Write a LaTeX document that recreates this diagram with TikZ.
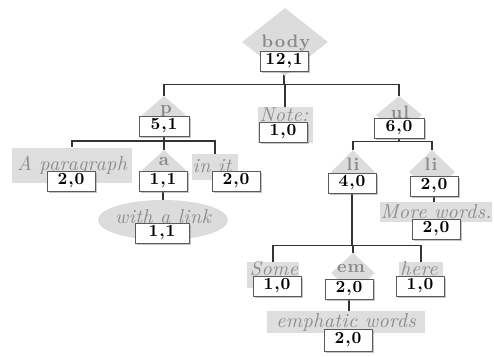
\documentclass[tikz,border=0pt]{standalone}
\usepackage{fontspec}
\setmainfont{lmroman10}[Extension=.otf, UprightFont=*-regular, BoldFont=*-bold,
  ItalicFont=*-italic, BoldItalicFont=*-bolditalic]
\usetikzlibrary{shapes.geometric,shadows}
\definecolor{tagfill}{HTML}{DCDCDC}
\definecolor{platefill}{HTML}{DEDEDE}
\definecolor{taggray}{HTML}{8A8A8A}
\definecolor{wordgray}{HTML}{8C8C8C}
\definecolor{linkgray}{HTML}{333333}
\definecolor{boxline}{HTML}{5A5A5A}
\newcommand\countfont{\fontsize{17}{17}\selectfont\bfseries\addfontfeatures{LetterSpace=5}}
\newcommand\tagfont{\fontsize{18}{18}\selectfont\bfseries\addfontfeatures{LetterSpace=6}}
\newcommand\wordfont{\fontsize{20}{20}\selectfont\itshape\addfontfeatures{LetterSpace=2}}
\pgfdeclarelayer{background}
\pgfsetlayers{background,main}
\begin{document}
\begin{tikzpicture}[x=1pt,y=-1pt,
  count/.style={draw=boxline, line width=1pt, fill=white, minimum width=48pt,
    minimum height=20pt, inner sep=0pt, font=\countfont, text=black,
    drop shadow={opacity=0.45, shadow xshift=1.8pt, shadow yshift=-1.8pt}},
  tag/.style={diamond, fill=tagfill, inner sep=0pt, minimum width=44pt, minimum height=38pt},
  tagtext/.style={font=\tagfont, text=taggray, inner sep=0pt},
  plate/.style={rectangle, fill=platefill, inner sep=0pt},
  words/.style={font=\wordfont, text=wordgray, inner sep=0pt},
  link/.style={draw=linkgray, line width=1.3pt}]
\useasboundingbox (0,0) rectangle (494,356);

% element tags (diamonds) and their names
\node[tag, minimum width=86pt, minimum height=68pt] (dBody) at (285,42) {};
\node[tagtext] (tBody) at (286,43) {body};
\node[tag] (dP) at (164,115) {};
\node[tagtext] (tP) at (166,111) {p};
\node[tag, minimum height=40pt] (dA) at (164,170) {};
\node[tagtext] (tA) at (164,161) {a};
\node[tag, minimum width=46pt] (dUl) at (399,115) {};
\node[tagtext] (tUl) at (400,112) {ul};
\node[tag, minimum height=44pt] (dLiA) at (353,172) {};
\node[tagtext] (tLiA) at (353,164) {li};
\node[tag, minimum width=46pt, minimum height=44pt] (dLiB) at (432,172) {};
\node[tagtext] (tLiB) at (431,164) {li};
\node[tag, minimum height=40pt] (dEm) at (353,273) {};
\node[tagtext] (tEm) at (351,268) {em};

% text runs on grey plates
\node[plate, minimum width=120pt, minimum height=35pt] (rPara) at (72,165) {};
\node[words] (wPara) at (72,165) {A paragraph};
\node[plate, minimum width=46pt, minimum height=26pt] (rInit) at (215,167) {};
\node[words] (wInit) at (212,166) {in it};
\node[plate, minimum width=55pt, minimum height=36pt] (rNote) at (285,125) {};
\node[words] (wNote) at (284,115) {Note:};
\node[ellipse, fill=tagfill, minimum width=130pt, minimum height=40pt, inner sep=0pt] (eLink) at (163,220) {};
\node[words] (wLink) at (163,217) {with a link};
\node[plate, minimum width=112pt, minimum height=20pt] (rMore) at (436,212) {};
\node[words] (wMore) at (436,212) {More words.};
\node[plate, minimum width=52pt, minimum height=26pt] (rSome) at (273,275) {};
\node[words] (wSome) at (274,269) {Some};
\node[plate, minimum width=44pt, minimum height=26pt] (rHere) at (421,275) {};
\node[words] (wHere) at (419,269) {here};
\node[plate, minimum width=158pt, minimum height=22pt] (rEmph) at (346,322) {};
\node[words] (wEmph) at (346,322) {emphatic words};

% counters
\node[count] (cBody) at (284,61) {12,1};
\node[count, minimum width=50pt] (cP) at (164,126) {5,1};
\node[count] (cNote) at (283,132) {1,0};
\node[count, minimum width=50pt] (cUl) at (399,128) {6,0};
\node[count] (cPara) at (71,181) {2,0};
\node[count] (cA) at (163,181) {1,1};
\node[count] (cInit) at (236,181) {2,0};
\node[count, minimum width=54pt] (cLink) at (162,233) {1,1};
\node[count] (cLiA) at (352,183) {4,0};
\node[count] (cLiB) at (434,186) {2,0};
\node[count] (cMore) at (436,229) {2,0};
\node[count] (cSome) at (277,286) {1,0};
\node[count] (cEm) at (349,289) {2,0};
\node[count] (cHere) at (420,286) {1,0};
\node[count, minimum height=22pt] (cEmph) at (348,340) {2,0};

% tree connectors, kept behind everything else
\begin{pgfonlayer}{background}
\draw[link] (cBody.south) -- ++(0,13) -| (dP.north);
\draw[link] (cBody.south) -- ++(0,13) -| (rNote.north);
\draw[link] (cBody.south) -- ++(0,13) -| (dUl.north);
\draw[link] (cP.south) -- ++(0,4.5) -| (rPara.north);
\draw[link] (cP.south) -- ++(0,4.5) -| (dA.north);
\draw[link] (cP.south) -- ++(0,4.5) -| (rInit.north);
\draw[link] (cA.south) -- (cA.south |- eLink.north);
\draw[link] (cUl.south) -- ++(0,3) -| (dLiA.north);
\draw[link] (cUl.south) -- ++(0,3) -| (dLiB.north);
\draw[link] (cLiB.south) -- (cLiB.south |- rMore.north);
\draw[link] (cLiA.south) -- ++(0,52) -| (rSome.north);
\draw[link] (cLiA.south) -- ++(0,52) -| (dEm.north);
\draw[link] (cLiA.south) -- ++(0,52) -| (rHere.north);
\draw[link] (cEm.south) -- (cEm.south |- rEmph.north);
\end{pgfonlayer}
\end{tikzpicture}
\end{document}
